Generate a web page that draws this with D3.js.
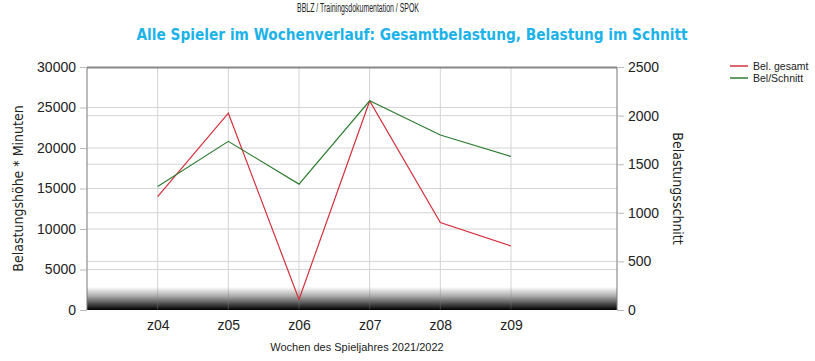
<!DOCTYPE html>
<html>
<head>
<meta charset="utf-8">
<script src="https://cdn.jsdelivr.net/npm/d3@7"></script>
<style>
  body { margin: 0; background: #fff; }
  svg { display: block; font-family: "Liberation Sans", Arial, sans-serif; }
</style>
</head>
<body>
<script>
// Daten
const wochen = ["z04", "z05", "z06", "z07", "z08", "z09"];
const belGesamt = [14000, 24300, 1300, 25800, 10800, 7900];
const belSchnitt = [1270, 1735, 1295, 2152, 1800, 1580];
const linksTicks = [0, 5000, 10000, 15000, 20000, 25000, 30000];
const rechtsTicks = [0, 500, 1000, 1500, 2000, 2500];

const breite = 815, hoehe = 361;
const rand = { o: 67, r: 198, u: 51, l: 87 };
const dim = { b: breite - rand.l - rand.r, h: hoehe - rand.o - rand.u };

const svg = d3.select("body").append("svg")
  .attr("width", breite)
  .attr("height", hoehe);

const defs = svg.append("defs");
const verlauf = defs.append("linearGradient")
  .attr("id", "boden")
  .attr("x1", 0).attr("y1", 0).attr("x2", 0).attr("y2", 1);
verlauf.append("stop").attr("offset", "0%").attr("stop-color", "#fff");
verlauf.append("stop").attr("offset", "40%").attr("stop-color", "#aaa");
verlauf.append("stop").attr("offset", "100%").attr("stop-color", "#000");

// Kopf
svg.append("text")
  .attr("x", 358).attr("y", 12)
  .attr("text-anchor", "middle")
  .attr("font-size", 12)
  .attr("textLength", 122)
  .attr("lengthAdjust", "spacingAndGlyphs")
  .attr("fill", "#222")
  .text("BBLZ / Trainingsdokumentation / SPOK");

svg.append("text")
  .attr("x", 412).attr("y", 40)
  .attr("text-anchor", "middle")
  .attr("font-family", "'DejaVu Sans Condensed', 'DejaVu Sans', sans-serif")
  .attr("font-weight", "bold")
  .attr("font-size", 16)
  .attr("textLength", 551)
  .attr("lengthAdjust", "spacingAndGlyphs")
  .attr("fill", "#1cb2ea")
  .text("Alle Spieler im Wochenverlauf: Gesamtbelastung, Belastung im Schnitt");

const g = svg.append("g")
  .attr("transform", "translate(" + rand.l + "," + rand.o + ")");

const xEscala = d3.scaleLinear()
  .domain([-1, wochen.length + 0.5])
  .range([0, dim.b]);

const yLinks = d3.scaleLinear()
  .domain([0, 30000])
  .range([dim.h, 0]);

const yRechts = d3.scaleLinear()
  .domain([0, 2500])
  .range([dim.h, 0]);

// Gitter
g.selectAll(".gl")
  .data(linksTicks.slice(1, -1))
  .enter().append("line")
  .attr("x1", 0).attr("x2", dim.b)
  .attr("y1", d => yLinks(d)).attr("y2", d => yLinks(d))
  .attr("stroke", "#d4d4d4");

g.selectAll(".gr")
  .data(rechtsTicks.slice(1, -1))
  .enter().append("line")
  .attr("x1", 0).attr("x2", dim.b)
  .attr("y1", d => yRechts(d)).attr("y2", d => yRechts(d))
  .attr("stroke", "#d4d4d4");

g.selectAll(".gx")
  .data(wochen)
  .enter().append("line")
  .attr("x1", (d, i) => xEscala(i)).attr("x2", (d, i) => xEscala(i))
  .attr("y1", 0).attr("y2", dim.h)
  .attr("stroke", "#d4d4d4");

// Boden-Verlauf
g.append("rect")
  .attr("x", 0).attr("y", dim.h - 23)
  .attr("width", dim.b).attr("height", 23)
  .attr("fill", "url(#boden)");

g.selectAll(".gx2")
  .data(wochen)
  .enter().append("line")
  .attr("x1", (d, i) => xEscala(i)).attr("x2", (d, i) => xEscala(i))
  .attr("y1", dim.h - 23).attr("y2", dim.h)
  .attr("stroke", "#888").attr("stroke-opacity", 0.35);

// Rahmen
g.append("line").attr("x1", 0).attr("x2", dim.b).attr("y1", 0.5).attr("y2", 0.5)
  .attr("stroke", "#888").attr("stroke-width", 2);
g.append("line").attr("x1", 0).attr("x2", 0).attr("y1", 0).attr("y2", dim.h)
  .attr("stroke", "#777");
g.append("line").attr("x1", dim.b).attr("x2", dim.b).attr("y1", 0).attr("y2", dim.h)
  .attr("stroke", "#777");

// Achsen
const achseL = g.append("g")
  .call(d3.axisLeft(yLinks).tickValues(linksTicks).tickSize(7).tickPadding(4).tickFormat(d3.format("d")));
const achseR = g.append("g")
  .attr("transform", "translate(" + dim.b + ",0)")
  .call(d3.axisRight(yRechts).tickValues(rechtsTicks).tickSize(7).tickPadding(4).tickFormat(d3.format("d")));
const achseX = g.append("g")
  .attr("transform", "translate(0," + dim.h + ")")
  .call(d3.axisBottom(xEscala).tickValues(d3.range(wochen.length)).tickSize(0).tickPadding(10)
    .tickFormat(i => wochen[i]));

[achseL, achseR, achseX].forEach(a => {
  a.select(".domain").remove();
  a.selectAll(".tick line").attr("stroke", "#bbb");
  a.selectAll("text").attr("font-size", 14).attr("fill", "#222")
    .attr("font-family", "'Liberation Sans', Arial, sans-serif");
});

// Linien
const linieL = d3.line()
  .x((d, i) => xEscala(i))
  .y(d => yLinks(d));
const linieR = d3.line()
  .x((d, i) => xEscala(i))
  .y(d => yRechts(d));

g.append("path").datum(belGesamt)
  .attr("d", linieL).attr("fill", "none")
  .attr("stroke", "#d4303c").attr("stroke-width", 1.2);
g.append("path").datum(belSchnitt)
  .attr("d", linieR).attr("fill", "none")
  .attr("stroke", "#2e7d32").attr("stroke-width", 1.2);

// Achsentitel
svg.append("text")
  .attr("transform", "translate(23," + (rand.o + dim.h / 2) + ") rotate(-90)")
  .attr("text-anchor", "middle")
  .attr("font-family", "'DejaVu Sans Condensed', 'DejaVu Sans', sans-serif")
  .attr("font-size", 14)
  .attr("fill", "#222")
  .text("Belastungshöhe * Minuten");

svg.append("text")
  .attr("transform", "translate(673," + (rand.o + dim.h / 2) + ") rotate(90)")
  .attr("text-anchor", "middle")
  .attr("font-family", "'DejaVu Sans Condensed', 'DejaVu Sans', sans-serif")
  .attr("font-size", 14)
  .attr("fill", "#222")
  .text("Belastungsschnitt");

svg.append("text")
  .attr("x", 357).attr("y", 351)
  .attr("text-anchor", "middle")
  .attr("font-size", 11)
  .attr("fill", "#222")
  .text("Wochen des Spieljahres 2021/2022");

// Legende
const legende = svg.append("g").attr("transform", "translate(730,66)");
const eintraege = [["Bel. gesamt", "#d4303c"], ["Bel/Schnitt", "#2e7d32"]];
eintraege.forEach((e, i) => {
  legende.append("line")
    .attr("x1", 0).attr("x2", 18)
    .attr("y1", i * 12).attr("y2", i * 12)
    .attr("stroke", e[1]).attr("stroke-width", 1.5);
  legende.append("text")
    .attr("x", 23).attr("y", i * 12 + 4)
    .attr("font-size", 10.5)
    .attr("fill", "#222")
    .text(e[0]);
});
</script>
</body>
</html>
